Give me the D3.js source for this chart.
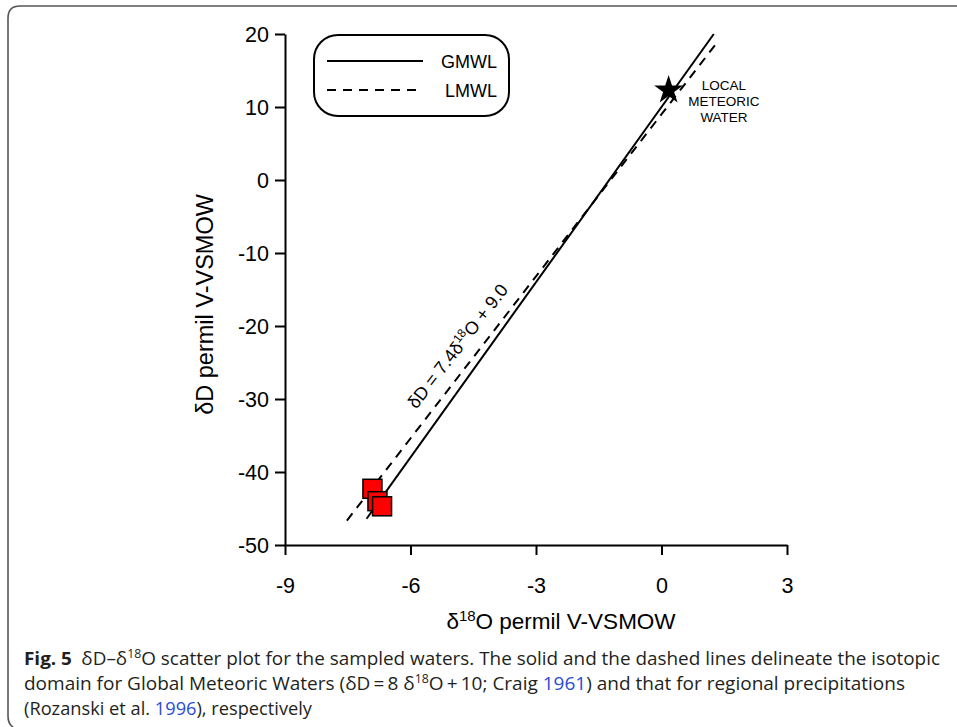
<!DOCTYPE html>
<html>
<head>
<meta charset="utf-8">
<script src="https://cdn.jsdelivr.net/npm/d3@7"></script>
<style>
  html, body { margin: 0; padding: 0; background: #fff; }
  svg { display: block; }
</style>
</head>
<body>
<svg id="chart" width="957" height="727"></svg>
<script>
// Axis ticks
const xTicks = [-9, -6, -3, 0, 3];
const yTicks = [20, 10, 0, -10, -20, -30, -40, -50];

// Sampled waters (δ18O, δD)
const sampleO = [-6.91, -6.79, -6.68];
const sampleD = [-42.3, -44.0, -44.7];

// Local meteoric water (star)
const localO = [0.17];
const localD = [12.3];

// Meteoric water lines: slope, intercept, δ18O extent
const gmwl = { slope: 8, intercept: 10, from: -7.05, to: 1.25 };
const lmwl = { slope: 7.4, intercept: 9.0, from: -7.52, to: 1.36 };

const svg = d3.select("#chart");
const x = d3.scaleLinear().domain([-9, 3]).range([285, 787]);
const y = d3.scaleLinear().domain([-50, 20]).range([545, 34]);

const axisFont = "'Liberation Sans', Arial, sans-serif";

// Figure frame
svg.append("path")
  .attr("d", "M13,727 Q8,724 8,716 L8,18 Q8,6 20,6 L957,6")
  .attr("fill", "none").attr("stroke", "#555").attr("stroke-width", 1.6);

// Axes
const gx = svg.append("g").attr("transform", `translate(0,${y(-50)})`)
  .call(d3.axisBottom(x).tickValues(xTicks).tickSize(10).tickSizeOuter(0).tickFormat(d => String(d)));
const gy = svg.append("g").attr("transform", `translate(${x(-9)},0)`)
  .call(d3.axisLeft(y).tickValues(yTicks).tickSize(10).tickSizeOuter(0).tickFormat(d => String(d)));
[gx, gy].forEach(g => {
  g.selectAll("path, line").attr("stroke", "#000").attr("stroke-width", 2);
  g.selectAll("text").attr("font-family", axisFont).attr("font-size", 21.5).attr("fill", "#000");
});
gx.selectAll("text").attr("dy", null).attr("y", 48);
gy.selectAll("text").attr("x", -16).attr("dy", "0.36em");

// Axis titles
const xt = svg.append("text").attr("x", 561).attr("y", 629)
  .attr("text-anchor", "middle").attr("font-family", axisFont).attr("font-size", 22.5);
xt.append("tspan").text("δ");
xt.append("tspan").attr("font-size", 15).attr("dy", -8).text("18");
xt.append("tspan").attr("dy", 8).text("O permil V-VSMOW");

svg.append("text").attr("transform", `translate(213,${(y(20) + y(-50)) / 2 + 15}) rotate(-90)`)
  .attr("text-anchor", "middle").attr("font-family", axisFont).attr("font-size", 23.5)
  .text("δD permil V-VSMOW");

// Meteoric water lines
function lineData(l) {
  return [l.from, l.to].map(o => [x(o), y(l.slope * o + l.intercept)]);
}
svg.append("path").attr("d", d3.line()(lineData(gmwl)))
  .attr("stroke", "#000").attr("stroke-width", 2).attr("fill", "none");
svg.append("path").attr("d", d3.line()(lineData(lmwl)))
  .attr("stroke", "#000").attr("stroke-width", 2).attr("fill", "none")
  .attr("stroke-dasharray", "9,7");

// Equation label along the LMWL
const anchorO = -4.51;
const ax = x(anchorO), ay = y(lmwl.slope * anchorO + lmwl.intercept);
const ld = lineData(lmwl);
const angle = Math.atan2(ld[1][1] - ld[0][1], ld[1][0] - ld[0][0]) * 180 / Math.PI;
const eq = svg.append("text")
  .attr("transform", `translate(${ax},${ay}) rotate(${angle})`)
  .attr("y", -13).attr("text-anchor", "middle")
  .attr("font-family", axisFont).attr("font-size", 18);
eq.append("tspan").text("δD = 7.4δ");
eq.append("tspan").attr("font-size", 12).attr("dy", -7).text("18");
eq.append("tspan").attr("dy", 7).text("O + 9.0");

// Sample squares
const side = 19;
svg.append("g").selectAll("rect")
  .data(sampleO.map((o, i) => [o, sampleD[i]]))
  .join("rect")
  .attr("x", d => x(d[0]) - side / 2).attr("y", d => y(d[1]) - side / 2)
  .attr("width", side).attr("height", side)
  .attr("fill", "#ff0000").attr("stroke", "#000").attr("stroke-width", 1.5);

// Local meteoric water star
svg.append("g").selectAll("path")
  .data(localO.map((o, i) => [o, localD[i]]))
  .join("path")
  .attr("transform", d => `translate(${x(d[0])},${y(d[1])})`)
  .attr("d", d3.symbol(d3.symbolStar, 260))
  .attr("fill", "#000");

const starLabel = ["LOCAL", "METEORIC", "WATER"];
svg.append("g").selectAll("text").data(starLabel).join("text")
  .attr("x", 724).attr("y", (d, i) => 90 + i * 16)
  .attr("text-anchor", "middle").attr("font-family", axisFont).attr("font-size", 13.5)
  .text(d => d);

// Legend
const lg = svg.append("g");
lg.append("rect").attr("x", 314).attr("y", 35).attr("width", 195).attr("height", 81)
  .attr("rx", 24).attr("ry", 24).attr("fill", "#fff").attr("stroke", "#000").attr("stroke-width", 2);
const legendItems = [
  { name: "GMWL", dash: null, y: 61 },
  { name: "LMWL", dash: "9,7", y: 90 }
];
legendItems.forEach(it => {
  lg.append("line").attr("x1", 327).attr("x2", 423).attr("y1", it.y).attr("y2", it.y)
    .attr("stroke", "#000").attr("stroke-width", 2).attr("stroke-dasharray", it.dash);
  lg.append("text").attr("x", 497).attr("y", it.y + 6.5).attr("text-anchor", "end")
    .attr("font-family", axisFont).attr("font-size", 18).text(it.name);
});

// Caption
const capFont = "'Open Sans', sans-serif";
const capColor = "#231f20", linkColor = "#2a4bd8";
function capLine(yPos, len) {
  return svg.append("text").attr("x", 24).attr("y", yPos)
    .attr("font-family", capFont).attr("font-size", 18.5).attr("fill", capColor)
    .attr("textLength", len).attr("lengthAdjust", "spacingAndGlyphs");
}
const c1 = capLine(665, 916);
c1.append("tspan").attr("font-weight", "bold").text("Fig. 5");
c1.append("tspan").text("\u2002δD–δ");
c1.append("tspan").attr("font-size", 12).attr("dy", -7).text("18");
c1.append("tspan").attr("dy", 7).text("O scatter plot for the sampled waters. The solid and the dashed lines delineate the isotopic");

const c2 = capLine(690, 881);
c2.append("tspan").text("domain for Global Meteoric Waters (δD\u2009=\u20098 δ");
c2.append("tspan").attr("font-size", 12).attr("dy", -7).text("18");
c2.append("tspan").attr("dy", 7).text("O\u2009+\u200910; Craig ");
c2.append("tspan").attr("fill", linkColor).text("1961");
c2.append("tspan").text(") and that for regional precipitations");

const c3 = capLine(715, 288);
c3.append("tspan").text("(Rozanski et al. ");
c3.append("tspan").attr("fill", linkColor).text("1996");
c3.append("tspan").text("), respectively");
</script>
</body>
</html>
